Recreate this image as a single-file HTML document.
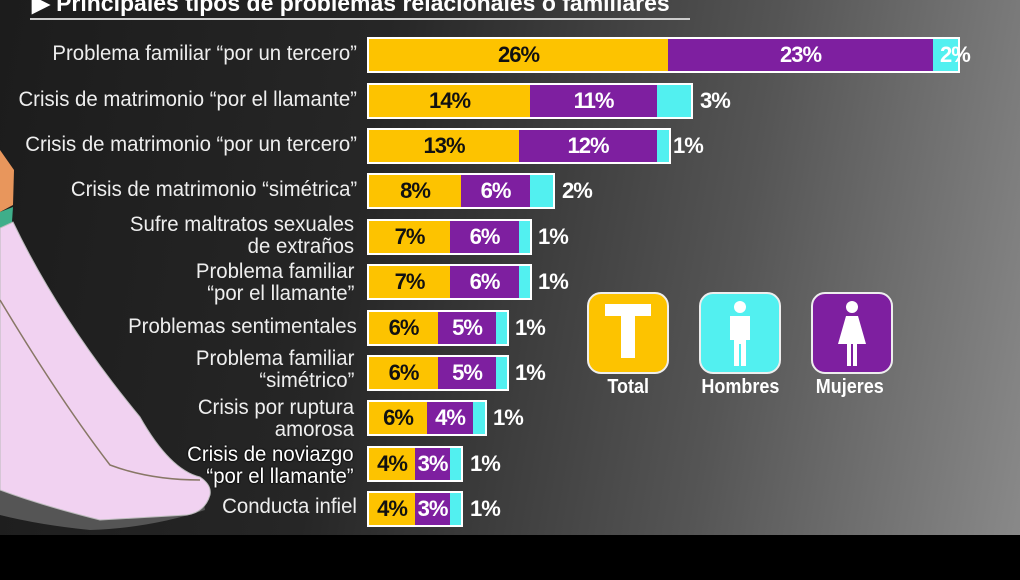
<!DOCTYPE html>
<html><head><meta charset="utf-8"><style>
body{margin:0}
#c{position:relative;width:1020px;height:580px;overflow:hidden;background:linear-gradient(100deg,#1c1c1c 0%,#262626 35%,#555 70%,#8a8a8a 100%);font-family:"Liberation Sans",sans-serif}
.bot{position:absolute;left:0;top:535px;width:1020px;height:45px;background:#000}
.lab{position:absolute;right:663px;color:#eee;font-size:21px;line-height:22px;text-align:right;white-space:nowrap;transform:scaleX(.97);transform-origin:right center}
.bar{position:absolute;left:367px;height:32px;border:2px solid #fff;display:flex;box-sizing:content-box}
.bar div{height:32px;font-weight:bold;font-size:22px;line-height:32px;text-align:center;overflow:visible;white-space:nowrap;letter-spacing:-1px}
.y{background:#fdc300;color:#111}.p{background:#7e1fa0;color:#fff}.cy{background:#52f0f0}
.v{position:absolute;color:#fff;font-weight:bold;font-size:22px;line-height:32px;letter-spacing:-1px}
.ic{position:absolute;top:292px;width:78px;height:78px;border:2px solid #eee;border-radius:14px}
.il{position:absolute;top:376px;color:#fff;font-weight:bold;font-size:20px;transform:scaleX(.9)}
</style></head><body><div id="c">
<svg style="position:absolute;left:0;top:0" width="260" height="540">
<path d="M0 150 L14 170 L13 205 L0 212Z" fill="#e8965c"/>
<path d="M0 212 L13 207 L12 222 L0 230Z" fill="#3fae8a"/>
<path d="M0 440 Q60 470 110 470 L200 480 L205 510 Q150 528 90 530 Q40 525 0 515Z" fill="#555"/>
<path d="M0 228 L13 222 Q60 320 140 417 Q170 470 200 477 Q212 485 210 495 Q205 512 187 515 L100 520 Q40 505 0 490Z" fill="#f1d2f1" stroke="#bbb" stroke-width="1"/>
<path d="M0 300 Q60 400 110 465 Q150 480 200 480" fill="none" stroke="#876" stroke-width="1.5"/>
</svg>
<div style="position:absolute;left:32px;top:-10px;color:#fff;font-weight:bold;font-size:23px;white-space:nowrap">▶ Principales tipos de problemas relacionales o familiares</div>
<div style="position:absolute;left:30px;top:18px;width:660px;height:2px;background:#ccc"></div>

<div class="lab" style="top:43px">Problema familiar “por un tercero”</div>
<div class="bar" style="top:37px"><div class="y" style="width:299px">26%</div><div class="p" style="width:265px">23%</div><div class="cy" style="width:25px"></div></div><div class="v" style="left:940px;top:39px;color:#fff">2%</div>

<div class="lab" style="top:89px">Crisis de matrimonio “por el llamante”</div>
<div class="bar" style="top:83px"><div class="y" style="width:161px">14%</div><div class="p" style="width:127px">11%</div><div class="cy" style="width:34px"></div></div><div class="v" style="left:700px;top:85px">3%</div>

<div class="lab" style="top:134px">Crisis de matrimonio “por un tercero”</div>
<div class="bar" style="top:128px"><div class="y" style="width:150px">13%</div><div class="p" style="width:138px">12%</div><div class="cy" style="width:12px"></div></div><div class="v" style="left:673px;top:130px">1%</div>

<div class="lab" style="top:179px">Crisis de matrimonio “simétrica”</div>
<div class="bar" style="top:173px"><div class="y" style="width:92px">8%</div><div class="p" style="width:69px">6%</div><div class="cy" style="width:23px"></div></div><div class="v" style="left:562px;top:175px">2%</div>

<div class="lab" style="top:214px;right:666px">Sufre maltratos sexuales<br>de extraños</div>
<div class="bar" style="top:219px"><div class="y" style="width:81px">7%</div><div class="p" style="width:69px">6%</div><div class="cy" style="width:11px"></div></div><div class="v" style="left:538px;top:221px">1%</div>

<div class="lab" style="top:261px;right:666px">Problema familiar<br>“por el llamante”</div>
<div class="bar" style="top:264px"><div class="y" style="width:81px">7%</div><div class="p" style="width:69px">6%</div><div class="cy" style="width:11px"></div></div><div class="v" style="left:538px;top:266px">1%</div>

<div class="lab" style="top:316px">Problemas sentimentales</div>
<div class="bar" style="top:310px"><div class="y" style="width:69px">6%</div><div class="p" style="width:58px">5%</div><div class="cy" style="width:11px"></div></div><div class="v" style="left:515px;top:312px">1%</div>

<div class="lab" style="top:348px;right:666px">Problema familiar<br>“simétrico”</div>
<div class="bar" style="top:355px"><div class="y" style="width:69px">6%</div><div class="p" style="width:58px">5%</div><div class="cy" style="width:11px"></div></div><div class="v" style="left:515px;top:357px">1%</div>

<div class="lab" style="top:397px;right:666px">Crisis por ruptura<br>amorosa</div>
<div class="bar" style="top:400px"><div class="y" style="width:58px">6%</div><div class="p" style="width:46px">4%</div><div class="cy" style="width:12px"></div></div><div class="v" style="left:493px;top:402px">1%</div>

<div class="lab" style="top:444px;right:666px;color:#fff;text-shadow:0 0 2px #000,0 0 2px #000">Crisis de noviazgo<br>“por el llamante”</div>
<div class="bar" style="top:446px"><div class="y" style="width:46px">4%</div><div class="p" style="width:35px">3%</div><div class="cy" style="width:11px"></div></div><div class="v" style="left:470px;top:448px">1%</div>

<div class="lab" style="top:496px">Conducta infiel</div>
<div class="bar" style="top:491px"><div class="y" style="width:46px">4%</div><div class="p" style="width:35px">3%</div><div class="cy" style="width:11px"></div></div><div class="v" style="left:470px;top:493px">1%</div>

<div class="ic" style="left:587px;background:#fdc300"><div style="position:absolute;left:16px;top:10px;width:46px;height:12px;background:#fff"></div><div style="position:absolute;left:32px;top:10px;width:14px;height:54px;background:#fff"></div></div>
<div class="ic" style="left:699px;background:#52f0f0"><svg width="78" height="78"><circle cx="39" cy="13" r="6" fill="#fff"/><path d="M29 22h20v24h-4v26h-5v-22h-2v22h-5V46h-4z" fill="#fff"/></svg></div>
<div class="ic" style="left:811px;background:#7e1fa0"><svg width="78" height="78"><circle cx="39" cy="13" r="6" fill="#fff"/><path d="M33 22h12l8 28H44v22h-4V50h-2v22h-4V50H25z" fill="#fff"/></svg></div>
<div class="il" style="left:605px">Total</div>
<div class="il" style="left:697px">Hombres</div>
<div class="il" style="left:812px">Mujeres</div>
<div class="bot"></div>
</div></body></html>
